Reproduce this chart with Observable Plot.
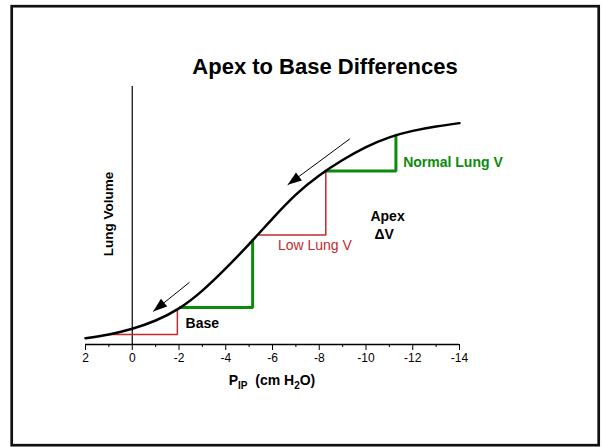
<!DOCTYPE html>
<html>
<head>
<meta charset="utf-8">
<script src="https://cdn.jsdelivr.net/npm/d3@7"></script>
<script src="https://cdn.jsdelivr.net/npm/@observablehq/plot@0.6"></script>
<style>
  html, body { margin: 0; padding: 0; background: #fff; }
  #chart { width: 602px; height: 447px; }
</style>
</head>
<body>
<div id="chart"></div>
<script>
// ---- data ----
const xTicks = [2, 0, -2, -4, -6, -8, -10, -12, -14];
const xMinorTicks = [1, -1, -3, -5, -7, -9, -11, -13];

// pressure-volume curve (P_IP in cm H2O, lung volume in arbitrary units 0-100)
const curveX = [2, 1, 0, -1, -2, -3, -4, -5, -6, -7, -8, -9, -10, -11, -12, -13, -14];
const curveV = [2.4, 3.9, 6.1, 9.3, 14.0, 20.9, 29.5, 38.9, 48.8, 58.1, 65.5, 71.5, 76.5, 80.3, 82.8, 84.5, 85.8];

// step segments
const baseRedX = [1, -1.93, -1.93];
const baseRedV = [3.9, 3.9, 13.6];
const baseGreenX = [-2.05, -5.15, -5.15];
const baseGreenV = [14.3, 14.3, 40.3];
const apexRedX = [-5.36, -8.28, -8.28];
const apexRedV = [42.4, 42.4, 67.3];
const apexGreenX = [-8.28, -11.28, -11.28];
const apexGreenV = [67.2, 67.2, 81.1];

// arrows (from -> to)
const arrowX1 = [-9.31, -2.45];
const arrowV1 = [79.7, 24.1];
const arrowX2 = [-6.65, -0.895];
const arrowV2 = [61.9, 12.8];

// annotation labels
const greenLabels = ["Normal Lung V"];
const greenLabelX = [-11.59];
const greenLabelV = [70.5];
const redLabels = ["Low Lung V"];
const redLabelX = [-6.23];
const redLabelV = [38.2];
const blackLabels = ["Apex", "ΔV", "Base"];
const blackLabelX = [-10.19, -10.36, -2.28];
const blackLabelV = [49.8, 42.7, 8.2];

const titleText = "Apex to Base Differences";
const yLabelText = "Lung Volume";

// ---- layout ----
const W = 602, H = 447;
const mL = 85, mR = 143, mT = 86, mB = 103;
const xDomain = [2, -14];
const yDomain = [0, 100];
const plotW = W - mL - mR, plotH = H - mT - mB;
const pxPerX = plotW / (xDomain[1] - xDomain[0]); // signed
const pxPerV = -plotH / (yDomain[1] - yDomain[0]);  // signed (screen y down)
const vPerPx = (yDomain[1] - yDomain[0]) / plotH;

const GREEN = "#0c8a0c";
const RED = "#c22a2e";

function headSymbol(i) {
  const dx = (arrowX2[i] - arrowX1[i]) * pxPerX;
  const dy = (arrowV2[i] - arrowV1[i]) * pxPerV;
  const len = Math.hypot(dx, dy);
  const ux = dx / len, uy = dy / len;
  const nx = -uy, ny = ux;
  const L = 14, Wd = 10;
  return {
    draw(ctx) {
      ctx.moveTo(0, 0);
      ctx.lineTo(-ux * L + nx * Wd / 2, -uy * L + ny * Wd / 2);
      ctx.lineTo(-ux * L - nx * Wd / 2, -uy * L - ny * Wd / 2);
      ctx.closePath();
    }
  };
}

const idx = (a) => a.map((_, i) => i);
const stepLine = (xs, vs, color, sw) =>
  Plot.line(idx(xs), {x: (i) => xs[i], y: (i) => vs[i], stroke: color, strokeWidth: sw, strokeLinejoin: "miter"});

const chart = Plot.plot({
  width: W,
  height: H,
  marginLeft: mL,
  marginRight: mR,
  marginTop: mT,
  marginBottom: mB,
  style: {fontFamily: "Arial, 'Liberation Sans', sans-serif", fontSize: "12px", color: "#000", background: "#fff"},
  x: {domain: xDomain, ticks: xTicks, tickFormat: (d) => String(d), tickSize: 6, tickPadding: 3, label: null},
  y: {domain: yDomain, axis: null},
  marks: [
    Plot.ruleY([0], {stroke: "#000", strokeWidth: 1.5}),
    Plot.ruleX(xMinorTicks, {y1: 0, y2: -3 * vPerPx, stroke: "#000", strokeWidth: 1}),
    Plot.ruleX([0], {stroke: "#000", strokeWidth: 1.2}),
    stepLine(baseRedX, baseRedV, RED, 1.5),
    stepLine(baseGreenX, baseGreenV, GREEN, 3),
    stepLine(apexRedX, apexRedV, RED, 1.5),
    stepLine(apexGreenX, apexGreenV, GREEN, 3),
    Plot.line(idx(curveX), {x: (i) => curveX[i], y: (i) => curveV[i], curve: "natural", stroke: "#000", strokeWidth: 2.5}),
    Plot.link(idx(arrowX1), {x1: (i) => arrowX1[i], y1: (i) => arrowV1[i], x2: (i) => arrowX2[i], y2: (i) => arrowV2[i], stroke: "#000", strokeWidth: 1}),
    ...idx(arrowX2).map((i) =>
      Plot.dot([i], {x: (j) => arrowX2[j], y: (j) => arrowV2[j], symbol: headSymbol(i), fill: "#000", stroke: "none"})
    ),
    Plot.text(idx(greenLabels), {x: (i) => greenLabelX[i], y: (i) => greenLabelV[i], text: (i) => greenLabels[i], textAnchor: "start", fill: GREEN, fontWeight: "bold", fontSize: 14}),
    Plot.text(idx(redLabels), {x: (i) => redLabelX[i], y: (i) => redLabelV[i], text: (i) => redLabels[i], textAnchor: "start", fill: RED, fontSize: 14}),
    Plot.text(idx(blackLabels), {x: (i) => blackLabelX[i], y: (i) => blackLabelV[i], text: (i) => blackLabels[i], textAnchor: "start", fill: "#000", fontWeight: "bold", fontSize: 14})
  ]
});

document.getElementById("chart").appendChild(chart);

// border, title, axis titles
const svg = d3.select(chart);
svg.append("rect")
  .attr("x", 11.7).attr("y", 6.2).attr("width", 587).attr("height", 439)
  .attr("fill", "none").attr("stroke", "#111").attr("stroke-width", 2.7);

svg.append("text")
  .attr("x", 325).attr("y", 74)
  .attr("text-anchor", "middle")
  .attr("font-size", 22).attr("font-weight", "bold").attr("fill", "#000")
  .text(titleText);

const xl = svg.append("text")
  .attr("x", mL + plotW / 2).attr("y", 385)
  .attr("text-anchor", "middle")
  .attr("font-size", 14).attr("font-weight", "bold").attr("fill", "#000")
  .style("white-space", "pre");
xl.append("tspan").text("P");
xl.append("tspan").attr("font-size", 10).attr("dy", 4).text("IP");
xl.append("tspan").attr("dy", -4).text("  (cm H");
xl.append("tspan").attr("font-size", 10).attr("dy", 4).text("2");
xl.append("tspan").attr("dy", -4).text("O)");

svg.append("text")
  .attr("transform", "translate(113,214) rotate(-90)")
  .attr("text-anchor", "middle")
  .attr("font-size", 13.5).attr("font-weight", "bold").attr("fill", "#000")
  .text(yLabelText);
</script>
</body>
</html>
